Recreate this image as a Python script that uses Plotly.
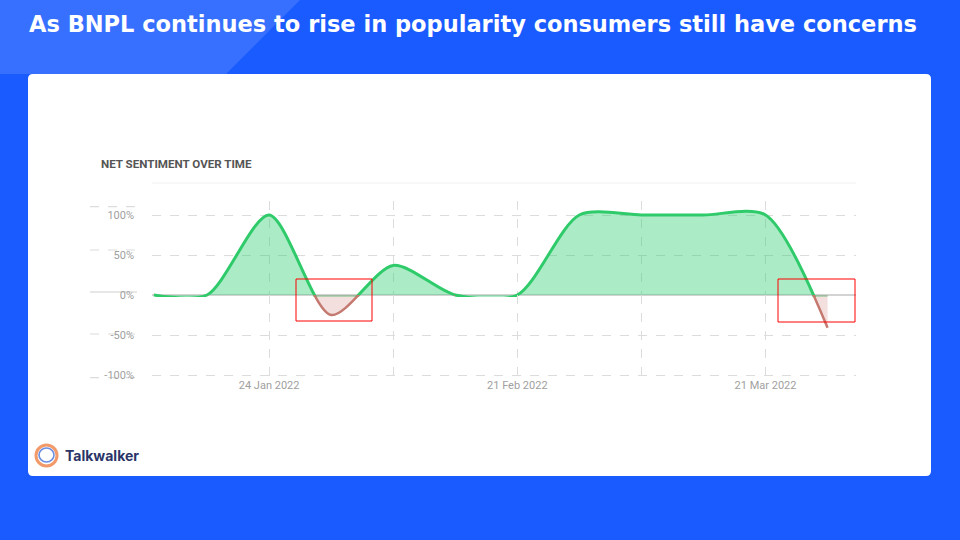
import plotly.graph_objects as go

# ---------------- data ----------------
dates = ["2022-01-11", "2022-01-17", "2022-01-24", "2022-01-31", "2022-02-07",
         "2022-02-14", "2022-02-21", "2022-02-28", "2022-03-07", "2022-03-14",
         "2022-03-21", "2022-03-28"]
net_sentiment = [0, 0, 100, -25, 37, 0, 0, 100, 100, 100, 100, -41]

pos_ticks = [100, 50]
pos_tick_labels = ["100%", "50%"]
neg_ticks = [0, -50, -100]
neg_tick_labels = ["0%", "-50%", "-100%"]
x_grid_dates = ["2022-01-24", "2022-02-07", "2022-02-21", "2022-03-07", "2022-03-21"]
x_grid_labels = ["24 Jan 2022", "", "21 Feb 2022", "", "21 Mar 2022"]

title = "As BNPL continues to rise in popularity consumers still have concerns"
chart_title = "NET SENTIMENT OVER TIME"

# negative series: only the stretches around negative values
n = len(net_sentiment)
neg_series = [v if any(net_sentiment[j] < 0 for j in range(max(0, i - 2), min(n, i + 3))) else None
              for i, v in enumerate(net_sentiment)]

# ---------------- helpers (pixel -> paper) ----------------
W, H = 960, 540


def px(x):
    return x / W


def py(y):
    return 1 - y / H


BLUE = "#1a5bff"
GREEN = "#2fcb6b"
GREEN_FILL = "rgba(46,204,113,0.40)"
RED = "#c47a70"
RED_FILL = "rgba(205,120,112,0.24)"
GRID = "#dcdcdc"
TICK_FONT = dict(family="Roboto", size=11, color="#a0a0a0")
SMOOTH = 0.78

fig = go.Figure()

# positive part (clipped to the upper subplot)
fig.add_trace(go.Scatter(
    x=dates, y=net_sentiment, xaxis="x", yaxis="y",
    mode="lines", line=dict(color=GREEN, width=3, shape="spline", smoothing=SMOOTH),
    fill="tozeroy", fillcolor=GREEN_FILL, hoverinfo="skip", showlegend=False,
))
# negative part (clipped to the lower subplot)
fig.add_trace(go.Scatter(
    x=dates, y=neg_series, xaxis="x", yaxis="y2", connectgaps=False,
    mode="lines", line=dict(color=RED, width=2.5, shape="spline", smoothing=SMOOTH),
    fill="tozeroy", fillcolor=RED_FILL, hoverinfo="skip", showlegend=False,
))

X0, X1 = 152, 856          # plot area horizontal pixels
Y_ZERO, Y_TOP, Y_BOT = 295, 201.4, 376.6
PX_PER_PCT = 0.8

shapes = []
# light band top-left
shapes.append(dict(type="path", xref="paper", yref="paper", layer="below",
                   path=f"M {px(0)},{py(0)} L {px(300)},{py(0)} L {px(226)},{py(74)} L {px(0)},{py(74)} Z",
                   fillcolor="rgba(255,255,255,0.13)", line=dict(width=0)))
# white card with rounded corners
cx0, cy0, cx1, cy1, r = 28, 74, 931, 476, 5
card = (f"M {px(cx0 + r)},{py(cy0)} L {px(cx1 - r)},{py(cy0)} "
        f"Q {px(cx1)},{py(cy0)} {px(cx1)},{py(cy0 + r)} "
        f"L {px(cx1)},{py(cy1 - r)} Q {px(cx1)},{py(cy1)} {px(cx1 - r)},{py(cy1)} "
        f"L {px(cx0 + r)},{py(cy1)} Q {px(cx0)},{py(cy1)} {px(cx0)},{py(cy1 - r)} "
        f"L {px(cx0)},{py(cy0 + r)} Q {px(cx0)},{py(cy0)} {px(cx0 + r)},{py(cy0)} Z")
shapes.append(dict(type="path", xref="paper", yref="paper", layer="below", path=card,
                   fillcolor="white", line=dict(width=0)))
# top thin border of the plot region
shapes.append(dict(type="line", xref="paper", yref="paper", layer="below",
                   x0=px(X0), x1=px(X1), y0=py(183), y1=py(183),
                   line=dict(color="#f0f0f0", width=1)))
# zero line
shapes.append(dict(type="line", xref="paper", yref="paper", layer="below",
                   x0=px(X0), x1=px(X1), y0=py(Y_ZERO), y1=py(Y_ZERO),
                   line=dict(color="#c4c4c4", width=1.5)))
# left stubs of the y grid (axis area)
stub_rows = [(206.7, "dash"), (250, "dash"), (292, "solid"), (334, "dash"), (377.7, "dash")]
for yy, dash in stub_rows:
    shapes.append(dict(type="line", xref="paper", yref="paper", layer="below",
                       x0=px(90), x1=px(137), y0=py(yy), y1=py(yy),
                       line=dict(color="#cfcfcf" if dash == "solid" else GRID,
                                 width=1.2, dash=dash)))
# red highlight boxes
for bx0, by0, bx1, by1 in [(296, 279, 372, 321), (778, 279, 855, 322)]:
    shapes.append(dict(type="rect", xref="paper", yref="paper", layer="above",
                       x0=px(bx0), x1=px(bx1), y0=py(by0), y1=py(by1),
                       line=dict(color="#ff0000", width=1), fillcolor="rgba(0,0,0,0)"))
# Talkwalker logo icon
shapes.append(dict(type="circle", xref="paper", yref="paper", layer="above",
                   x0=px(36), x1=px(57), y0=py(445), y1=py(466),
                   line=dict(color="#f39a6b", width=3), fillcolor="rgba(0,0,0,0)"))
shapes.append(dict(type="circle", xref="paper", yref="paper", layer="above",
                   x0=px(39), x1=px(54), y0=py(448), y1=py(462),
                   line=dict(color="#6d8fe0", width=1.6), fillcolor="rgba(0,0,0,0)"))

annotations = [
    dict(text=f"<b>{title}</b>", x=px(27), y=py(24), xref="paper", yref="paper",
         xanchor="left", yanchor="middle", showarrow=False,
         font=dict(family="DejaVu Sans", size=22.5, color="white")),
    dict(text=f"<b>{chart_title}</b>", x=px(99), y=py(164), xref="paper", yref="paper",
         xanchor="left", yanchor="middle", showarrow=False,
         font=dict(family="Roboto", size=11.6, color="#555555")),
    dict(text="<b>Talkwalker</b>", x=px(63), y=py(455), xref="paper", yref="paper",
         xanchor="left", yanchor="middle", showarrow=False,
         font=dict(family="Inter", size=14, color="#2b3467")),
]

# the upper subplot reaches a few pixels below zero so the green line stays whole
TOP_MIN = -2.5
fig.update_layout(
    width=W, height=H,
    margin=dict(l=0, r=0, t=0, b=0, pad=0, autoexpand=False),
    paper_bgcolor=BLUE,
    plot_bgcolor="rgba(0,0,0,0)",
    showlegend=False,
    shapes=shapes,
    annotations=annotations,
    xaxis=dict(
        domain=[px(X0), px(X1)], type="date",
        range=["2022-01-10 19:00", "2022-03-31 05:00"],
        anchor="y2", tickmode="array", tickvals=x_grid_dates, ticktext=x_grid_labels,
        showgrid=True, gridcolor=GRID, griddash="dash", gridwidth=1,
        zeroline=False, showline=False, ticks="", tickfont=TICK_FONT, automargin=False,
    ),
    yaxis=dict(
        domain=[py(Y_ZERO - TOP_MIN * PX_PER_PCT), py(Y_TOP)], range=[TOP_MIN, 117], anchor="x",
        tickmode="array", tickvals=pos_ticks, ticktext=pos_tick_labels,
        showgrid=True, gridcolor=GRID, griddash="dash", gridwidth=1,
        zeroline=False, showline=False, ticks="", tickfont=TICK_FONT,
        ticklabelstandoff=17, automargin=False,
    ),
    yaxis2=dict(
        domain=[py(Y_BOT), py(Y_ZERO)], range=[-102, 0], anchor="x",
        tickmode="array", tickvals=neg_ticks, ticktext=neg_tick_labels,
        showgrid=True, gridcolor=GRID, griddash="dash", gridwidth=1,
        zeroline=False, showline=False, ticks="", tickfont=TICK_FONT,
        ticklabelstandoff=17, automargin=False,
    ),
)

fig.write_html("out.html", config={"displayModeBar": False, "staticPlot": True})

# remove the browser's default page margin so the figure sits at (0, 0)
with open("out.html", encoding="utf-8") as f:
    html = f.read()
html = html.replace(
    "<head>",
    "<head><style>html,body{margin:0;padding:0;overflow:hidden;background:#1a5bff;}</style>", 1)
with open("out.html", "w", encoding="utf-8") as f:
    f.write(html)
